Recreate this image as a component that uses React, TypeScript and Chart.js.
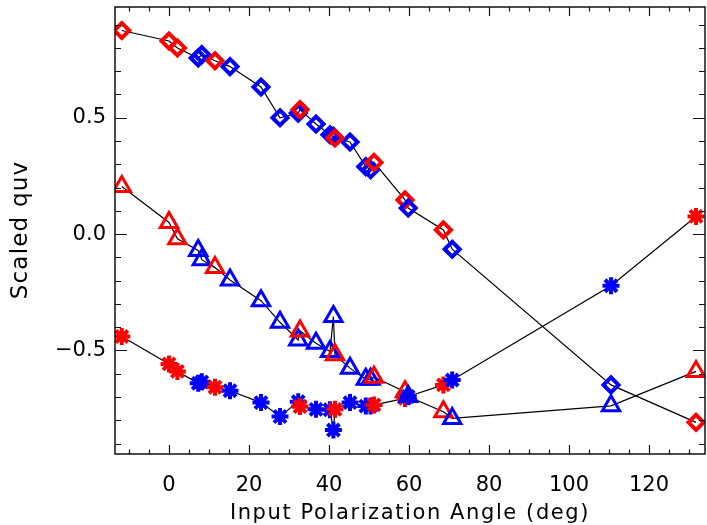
import React, { useEffect, useRef } from 'react';
import { Chart, registerables } from 'chart.js';

Chart.register(...registerables);

// ---- Data ----
const redAngles = [-11.8, 0, 2.1, 11.5, 32.75, 41.5, 51.25, 59, 68.6, 131.75];
const redQ = [0.875, 0.83, 0.8, 0.745, 0.535, 0.413, 0.308, 0.147, 0.018, -0.809];
const redU = [0.205, 0.05, -0.02, -0.144, -0.416, -0.519, -0.615, -0.677, -0.763, -0.59];
const redV = [-0.44, -0.558, -0.59, -0.658, -0.741, -0.753, -0.734, -0.706, -0.648, 0.076];

const blueAngles = [7.3, 8.2, 15.25, 23, 27.75, 32.3, 36.75, 40.25, 41.1, 45.25, 49.2, 50.4, 59.8, 70.8, 110.5];
const blueQ = [0.757, 0.771, 0.72, 0.632, 0.5, 0.52, 0.473, 0.427, 0.42, 0.396, 0.29, 0.277, 0.112, -0.065, -0.648];
const blueU = [-0.07, -0.11, -0.197, -0.286, -0.379, -0.455, -0.469, -0.505, -0.354, -0.576, -0.624, -0.624, -0.698, -0.792, -0.738];
const blueV = [-0.641, -0.635, -0.673, -0.724, -0.784, -0.72, -0.753, -0.755, -0.842, -0.724, -0.739, -0.739, -0.698, -0.627, -0.222];

const xTickValues = [0, 20, 40, 60, 80, 100, 120];
const xTickLabels = ['0', '20', '40', '60', '80', '100', '120'];
const yTickValues = [-0.5, 0, 0.5];
const yTickLabels = ['\u22120.5', '0.0', '0.5'];

const xTitle = 'Input Polarization Angle (deg)';
const yTitle = 'Scaled quv';

// ---- helpers ----
const toPts = (xs: number[], ys: number[]) => xs.map((x, i) => ({ x, y: ys[i] }));
const merged = (rv: number[], bv: number[]) =>
  [...toPts(redAngles, rv), ...toPts(blueAngles, bv)].sort((a, b) => a.x - b.x);
const LATE = 59.5;

const RED = '#ff0000';
const BLUE = '#0000ff';
const FONT = '"DejaVu Sans", sans-serif';

const framePlugin = {
  id: 'idlFrame',
  afterDraw(chart: any) {
    const { ctx, chartArea: a } = chart;
    const xs = chart.scales.x;
    const ys = chart.scales.y;
    ctx.save();
    ctx.strokeStyle = '#111';
    ctx.lineWidth = 1.5;
    ctx.strokeRect(a.left, a.top, a.right - a.left, a.bottom - a.top);
    ctx.lineWidth = 1.2;
    ctx.beginPath();
    for (let k = -2; k <= 26; k++) {
      const v = k * 5;
      const px = Math.round(xs.getPixelForValue(v)) + 0.5;
      if (px <= a.left + 1 || px >= a.right - 1) continue;
      const len = k % 4 === 0 ? 9 : 4.5;
      ctx.moveTo(px, a.bottom);
      ctx.lineTo(px, a.bottom - len);
      ctx.moveTo(px, a.top);
      ctx.lineTo(px, a.top + len);
    }
    for (let k = -9; k <= 9; k++) {
      const v = k / 10;
      const py = Math.round(ys.getPixelForValue(v)) + 0.5;
      if (py <= a.top + 1 || py >= a.bottom - 1) continue;
      const len = k % 5 === 0 ? 12 : 6;
      ctx.moveTo(a.left, py);
      ctx.lineTo(a.left + len, py);
      ctx.moveTo(a.right, py);
      ctx.lineTo(a.right - len, py);
    }
    ctx.stroke();

    // axis titles
    ctx.fillStyle = '#000';
    ctx.font = `21px ${FONT}`;
    try { (ctx as any).letterSpacing = '1.6px'; } catch (e) {}
    ctx.textAlign = 'center';
    ctx.textBaseline = 'alphabetic';
    ctx.fillText(xTitle, (a.left + a.right) / 2, 519);
    ctx.font = `23px ${FONT}`;
    try { (ctx as any).letterSpacing = '1.2px'; } catch (e) {}
    ctx.translate(27, 230);
    ctx.rotate(-Math.PI / 2);
    ctx.fillText(yTitle, 0, 0);
    ctx.restore();
  },
};

function markerSets(style: string, radius: number, bw: number, rv: number[], bv: number[]) {
  const common = {
    showLine: false,
    pointStyle: style,
    pointRadius: radius,
    pointHoverRadius: radius,
    pointBorderWidth: bw,
    pointHoverBorderWidth: bw,
    pointBackgroundColor: 'rgba(0,0,0,0)',
    clip: 0,
  };
  const bluePts = toPts(blueAngles, bv);
  return [
    { ...common, label: style + ' blue', data: bluePts.filter((p) => p.x < LATE), pointBorderColor: BLUE, borderColor: BLUE, order: 3 },
    { ...common, label: style + ' red', data: toPts(redAngles, rv), pointBorderColor: RED, borderColor: RED, order: 2 },
    { ...common, label: style + ' blue late', data: bluePts.filter((p) => p.x >= LATE), pointBorderColor: BLUE, borderColor: BLUE, order: 1 },
  ];
}

function lineSet(rv: number[], bv: number[]) {
  return {
    label: 'line',
    data: merged(rv, bv),
    showLine: true,
    borderColor: '#000',
    borderWidth: 1.2,
    pointRadius: 0,
    pointHoverRadius: 0,
    tension: 0,
    clip: 0,
    order: 10,
  };
}

const noPad = (s: any) => {
  s.paddingLeft = 0;
  s.paddingRight = 0;
  s.paddingTop = 0;
  s.paddingBottom = 0;
};

export default function App() {
  const ref = useRef<HTMLCanvasElement | null>(null);

  useEffect(() => {
    if (!ref.current) return;
    const tickFont = { family: FONT, size: 21 };
    const chart = new Chart(ref.current, {
      type: 'scatter',
      data: {
        datasets: [
          lineSet(redQ, blueQ),
          lineSet(redU, blueU),
          lineSet(redV, blueV),
          ...markerSets('rectRot', 7.5, 4, redQ, blueQ),
          ...markerSets('triangle', 10, 3, redU, blueU),
          ...markerSets('star', 8.5, 4, redV, blueV),
        ] as any,
      },
      options: {
        responsive: false,
        animation: false,
        devicePixelRatio: 1,
        events: [],
        layout: { autoPadding: false, padding: { top: 7, right: 2, left: 0, bottom: 0 } },
        plugins: { legend: { display: false }, tooltip: { enabled: false }, title: { display: false } },
        scales: {
          x: {
            type: 'linear',
            min: -13.5,
            max: 134,
            afterBuildTicks: (s: any) => { s.ticks = xTickValues.map((v) => ({ value: v })); },
            afterFit: (s: any) => { s.height = 71; noPad(s); },
            ticks: {
              callback: (_v: any, i: number) => xTickLabels[i],
              font: tickFont,
              color: '#000',
              padding: 19,
              maxRotation: 0,
              autoSkip: false,
            },
            grid: { display: false, drawTicks: false },
            border: { display: false },
          },
          y: {
            type: 'linear',
            min: -0.945,
            max: 0.976,
            afterBuildTicks: (s: any) => { s.ticks = yTickValues.map((v) => ({ value: v })); },
            afterFit: (s: any) => { s.width = 115; noPad(s); },
            ticks: {
              callback: (_v: any, i: number) => yTickLabels[i],
              font: tickFont,
              color: '#000',
              padding: 9,
              autoSkip: false,
            },
            grid: { display: false, drawTicks: false },
            border: { display: false },
          },
        },
      } as any,
      plugins: [framePlugin as any],
    });
    return () => chart.destroy();
  }, []);

  return (
    <div style={{ position: 'absolute', left: 0, top: 0, width: 707, height: 525, background: '#fff' }}>
      <canvas ref={ref} width={707} height={525} style={{ display: 'block' }} />
    </div>
  );
}
